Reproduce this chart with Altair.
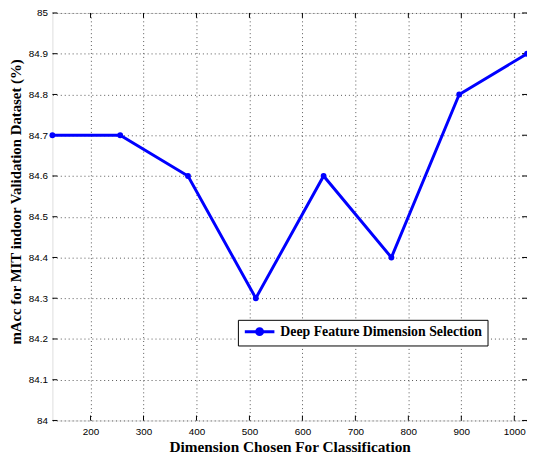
import altair as alt
import pandas as pd

dims = [128, 256, 384, 512, 640, 768, 896, 1024]
macc = [84.7, 84.7, 84.6, 84.3, 84.6, 84.4, 84.8, 84.9]
series = "Deep Feature Dimension Selection"
x_ticks = [200, 300, 400, 500, 600, 700, 800, 900, 1000]
y_ticks = [84.0, 84.1, 84.2, 84.3, 84.4, 84.5, 84.6, 84.7, 84.8, 84.9, 85.0]

df = pd.DataFrame({"dim": dims, "macc": macc, "s": [series] * len(dims)})
xt = pd.DataFrame({"t": x_ticks})
yt = pd.DataFrame({"t": y_ticks})

W, H = 481, 413
xs = alt.Scale(domain=[128, 1024], nice=False, zero=False)
ys = alt.Scale(domain=[84, 85], nice=False, zero=False)

SERIF = "Liberation Serif, Times New Roman, serif"
SANS = "Liberation Sans, Helvetica, Arial, sans-serif"

sym = "M-1,0H5M1.4,0A0.6,0.6 0 1,1 2.6,0A0.6,0.6 0 1,1 1.4,0Z"

line = alt.Chart(df).mark_line(strokeWidth=3, point=alt.OverlayMarkDef(filled=True, size=35, color="#0000ff")).encode(
    x=alt.X("dim:Q", scale=xs,
            axis=alt.Axis(values=x_ticks, title="Dimension Chosen For Classification", grid=True,
                          gridDash=[1, 3], gridColor="#555555", gridWidth=1, ticks=False, format="d",
                          labelFont=SANS, labelFontSize=10, labelColor="black", labelPadding=6,
                          titleFont=SERIF, titleFontSize=15.5, titleFontWeight="bold",
                          titleColor="black", titlePadding=3, domain=False)),
    y=alt.Y("macc:Q", scale=ys,
            axis=alt.Axis(values=y_ticks, title="mAcc for MIT indoor Validation Dataset (%)", grid=True,
                          gridDash=[1, 3], gridColor="#555555", gridWidth=1, ticks=False,
                          labelFont=SANS, labelFontSize=10, labelColor="black", labelPadding=5,
                          titleFont=SERIF, titleFontSize=15, titleFontWeight="bold",
                          titleColor="black", titlePadding=5, titleY=191, domain=False,
                          labelExpr="datum.value == 84 ? '84' : datum.value == 85 ? '85' : format(datum.value, '.1f')")),
    color=alt.Color("s:N", scale=alt.Scale(range=["#0000ff"]),
                    legend=alt.Legend(title=None, orient="none", legendX=188, legendY=311,
                                      symbolType=sym, symbolSize=100, symbolStrokeWidth=3,
                                      symbolFillColor="#0000ff", symbolStrokeColor="#0000ff",
                                      labelFont=SERIF, labelFontSize=14, labelFontWeight="bold",
                                      labelColor="black", labelLimit=400, labelOffset=24,
                                      labelExpr="datum.label + '    '",
                                      strokeColor="black", fillColor="white", padding=5)),
)

xtick_b = alt.Chart(xt).mark_rule(color="black", strokeWidth=1).encode(
    x=alt.X("t:Q", scale=xs), y=alt.value(H), y2=alt.value(H - 5))
xtick_t = alt.Chart(xt).mark_rule(color="black", strokeWidth=1).encode(
    x=alt.X("t:Q", scale=xs), y=alt.value(0), y2=alt.value(5))
ytick_l = alt.Chart(yt).mark_rule(color="black", strokeWidth=1).encode(
    y=alt.Y("t:Q", scale=ys), x=alt.value(0), x2=alt.value(5))
ytick_r = alt.Chart(yt).mark_rule(color="black", strokeWidth=1).encode(
    y=alt.Y("t:Q", scale=ys), x=alt.value(W), x2=alt.value(W - 5))

chart = alt.layer(xtick_b, xtick_t, ytick_l, ytick_r, line).properties(
    width=W, height=H,
    autosize=alt.AutoSizeParams(type="none"),
    padding={"left": 45, "top": 2, "right": 0, "bottom": 35},
).configure_view(stroke="black", strokeWidth=1.5).configure(background="white")

chart.save("out.html", embed_options={"renderer": "svg", "actions": False})
